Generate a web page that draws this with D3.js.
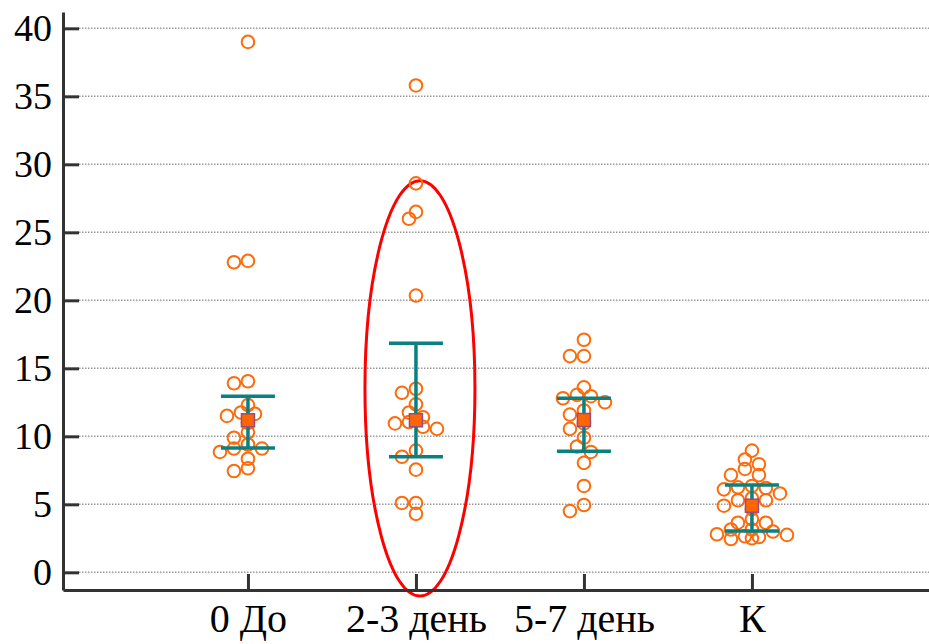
<!DOCTYPE html>
<html>
<head>
<meta charset="utf-8">
<script src="https://cdn.jsdelivr.net/npm/d3@7"></script>
<style>
  html, body { margin: 0; padding: 0; background: #fff; }
  svg { display: block; }
</style>
</head>
<body>
<svg id="chart" width="929" height="644"></svg>
<script>
// categories and raw values
const categories = ["0 До", "2-3 день", "5-7 день", "К"]

const groupDo = [39.0, 22.8, 22.9, 13.9, 14.05, 12.3, 11.65, 11.75, 11.5, 11.0,
  10.3, 9.9, 9.1, 9.1, 9.4, 8.85, 8.35, 7.45, 7.65]
const group23 = [35.8, 28.6, 26.5, 26.0, 20.35, 13.5, 13.2, 12.35, 11.75, 11.4,
  10.95, 10.7, 11.05, 10.55, 8.95, 8.5, 7.55, 5.1, 5.1, 4.3]
const group57 = [17.1, 15.9, 15.9, 13.6, 12.8, 12.5, 12.95, 13.05, 11.6, 11.9,
  10.55, 10.95, 9.9, 9.25, 8.85, 8.05, 6.35, 4.95, 4.5]
const groupK = [8.95, 8.3, 7.95, 7.6, 7.15, 7.15, 6.1, 6.2, 6.25, 6.35, 5.45, 5.8,
  5.3, 5.3, 4.65, 4.9, 3.9, 3.65, 3.65, 3.15, 3.15, 2.5, 2.45, 2.6, 2.65, 2.75, 2.8, 3.0]
const groups = [groupDo, group23, group57, groupK]

// centre marker and whiskers
const centers = [11.18, 11.18, 11.2, 4.9]
const lows = [9.15, 8.5, 8.9, 3.04]
const highs = [12.95, 16.85, 12.8, 6.42]

const yTicks = [0, 5, 10, 15, 20, 25, 30, 35, 40]

const svg = d3.select("#chart")
const W = 929
const mLeft = 63, mBottom = 590, mTop = 12
const serif = "'Liberation Serif', 'Times New Roman', serif"

const y = d3.scaleLinear().domain([-1.3, 41.2]).range([mBottom, mTop])
const x = d3.scaleLinear().domain([-1.101, 4.054]).range([mLeft, W])

// grid
svg.append("g")
  .selectAll("line")
  .data(yTicks)
  .join("line")
  .attr("x1", mLeft + 16)
  .attr("x2", W)
  .attr("y1", d => y(d))
  .attr("y2", d => y(d))
  .attr("stroke", "#9a9a9a")
  .attr("stroke-width", 1.5)
  .attr("stroke-dasharray", "1.5,1.5")

// annotation ellipse around second group
svg.append("ellipse")
  .attr("cx", x(1) + 4)
  .attr("cy", (y(28.8) + y(-1.75)) / 2)
  .attr("rx", 55)
  .attr("ry", (y(-1.75) - y(28.8)) / 2)
  .attr("fill", "none")
  .attr("stroke", "#ff0000")
  .attr("stroke-width", 3)

// simple beeswarm: step sideways until the circle has room
function swarm(vals, cx) {
  const step = 7, minD = 9.5
  const placed = []
  vals.map(v => ({v, py: y(v)}))
    .sort((a, b) => a.py - b.py)
    .forEach(p => {
      for (let k = 0; k < 12; k++) {
        const off = k === 0 ? 0 : (k % 2 ? -1 : 1) * Math.ceil(k / 2) * step
        const px = cx + off
        if (placed.every(q => Math.hypot(q.px - px, q.py - p.py) >= minD)) {
          placed.push({v: p.v, px, py: p.py})
          return
        }
      }
      placed.push({v: p.v, px: cx, py: p.py})
    })
  return placed
}

const pts = groups.flatMap((g, i) => swarm(g, x(i)))

svg.append("g")
  .selectAll("circle")
  .data(pts)
  .join("circle")
  .attr("cx", d => d.px)
  .attr("cy", d => d.py)
  .attr("r", 6.3)
  .attr("fill", "none")
  .attr("stroke", "#ff6a0a")
  .attr("stroke-width", 2)

// whiskers
const teal = "#0b8080"
const bars = svg.append("g").attr("stroke", teal).attr("stroke-width", 3.5)
categories.forEach((c, i) => {
  bars.append("line")
    .attr("x1", x(i)).attr("x2", x(i))
    .attr("y1", y(highs[i])).attr("y2", y(lows[i]))
  ;[highs[i], lows[i]].forEach(v => {
    bars.append("line")
      .attr("x1", x(i) - 27).attr("x2", x(i) + 27)
      .attr("y1", y(v)).attr("y2", y(v))
  })
})

svg.append("g")
  .selectAll("rect")
  .data(centers)
  .join("rect")
  .attr("x", (d, i) => x(i) - 6.5)
  .attr("y", d => y(d) - 6.5)
  .attr("width", 13)
  .attr("height", 13)
  .attr("fill", "#ff6600")
  .attr("stroke", "#9b4a80")
  .attr("stroke-width", 1.5)

// axes
const yAxis = svg.append("g")
  .attr("transform", `translate(${mLeft},0)`)
  .call(d3.axisLeft(y).tickValues(yTicks).tickSize(-16).tickSizeOuter(0).tickPadding(11))
yAxis.attr("font-family", serif).attr("font-size", 38)

const xAxis = svg.append("g")
  .attr("transform", `translate(0,${mBottom})`)
  .call(d3.axisBottom(x).tickValues([0, 1, 2, 3]).tickFormat(i => categories[i])
    .tickSize(-16).tickSizeOuter(0).tickPadding(14))
xAxis.attr("font-family", serif).attr("font-size", 40)

svg.selectAll("text").attr("fill", "#000")
;[xAxis, yAxis].forEach(a => a.selectAll("path, line")
  .attr("stroke", "#333")
  .attr("stroke-width", 3))
</script>
</body>
</html>
